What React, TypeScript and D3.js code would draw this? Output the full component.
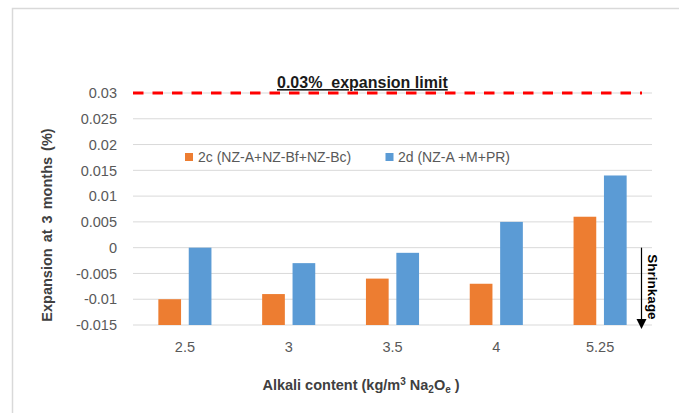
import React from "react";
import * as d3 from "d3";

const categories = ["2.5", "3", "3.5", "4", "5.25"];
const seriesNames = ["2c (NZ-A+NZ-Bf+NZ-Bc)", "2d (NZ-A +M+PR)"];
const series2c = [-0.01, -0.009, -0.006, -0.007, 0.006];
const series2d = [0, -0.003, -0.001, 0.005, 0.014];
const yTicks = [-0.015, -0.01, -0.005, 0, 0.005, 0.01, 0.015, 0.02, 0.025, 0.03];
const yTickLabels = ["-0.015", "-0.01", "-0.005", "0", "0.005", "0.01", "0.015", "0.02", "0.025", "0.03"];
const limitValue = 0.03;

const colors = ["#ED7D31", "#5B9BD5"];
const FONT = "'Liberation Sans', Arial, sans-serif";

export default function App() {
  const W = 679, H = 413;
  const plotL = 133, plotR = 652, plotT = 93, plotB = 325;
  const y = d3.scaleLinear().domain([-0.015, 0.03]).range([plotB, plotT]);
  const x0 = d3.scaleBand<string>().domain(categories).range([plotL, plotR]).padding(0);
  const x1 = d3
    .scaleBand<string>()
    .domain(["a", "b"])
    .range([0, x0.bandwidth()])
    .paddingInner(0.253)
    .paddingOuter(0.834);
  const data = [series2c, series2d];
  const base = y(-0.015);

  return (
    <svg
      width={W}
      height={H}
      style={{ position: "absolute", left: 0, top: 0, background: "#fff", fontFamily: FONT }}
    >
      <rect x={0} y={0} width={W} height={H} fill="#fff" />
      {/* outer frame */}
      <rect x={12.5} y={8.5} width={800} height={600} fill="none" stroke="#d9d9d9" strokeWidth={1.5} />

      {/* gridlines */}
      {yTicks.map((t) => (
        <line key={t} x1={plotL} x2={plotR} y1={y(t)} y2={y(t)} stroke="#d9d9d9" strokeWidth={1} />
      ))}

      {/* y tick labels */}
      {yTicks.map((t, i) => (
        <text
          key={"l" + t}
          x={117}
          y={y(t)}
          dy="0.36em"
          textAnchor="end"
          fontSize={14.5}
          fill="#595959"
        >
          {yTickLabels[i]}
        </text>
      ))}

      {/* bars */}
      {data.map((vals, si) =>
        vals.map((v, ci) => {
          const xx = (x0(categories[ci]) as number) + (x1(si === 0 ? "a" : "b") as number);
          const top = y(v);
          return (
            <rect
              key={si + "-" + ci}
              x={xx}
              y={Math.min(top, base)}
              width={x1.bandwidth()}
              height={Math.abs(base - top)}
              fill={colors[si]}
            />
          );
        })
      )}

      {/* x tick labels */}
      {categories.map((c) => (
        <text
          key={"x" + c}
          x={(x0(c) as number) + x0.bandwidth() / 2}
          y={352}
          textAnchor="middle"
          fontSize={14.5}
          fill="#595959"
        >
          {c}
        </text>
      ))}

      {/* limit line */}
      <line
        x1={plotL}
        x2={642}
        y1={y(limitValue)}
        y2={y(limitValue)}
        stroke="#FF0000"
        strokeWidth={3}
        strokeDasharray="10.5,9"
      />
      <text
        x={277}
        y={88}
        fontSize={16}
        fontWeight="bold"
        fill="#1a1a1a"
        textDecoration="underline"
        style={{ whiteSpace: "pre" }}
      >
        {"0.03%  expansion limit"}
      </text>

      {/* legend */}
      <rect x={185} y={153} width={8} height={8} fill={colors[0]} />
      <text x={198} y={157} dy="0.36em" fontSize={14} fill="#595959">
        {seriesNames[0]}
      </text>
      <rect x={385.5} y={153} width={8} height={8} fill={colors[1]} />
      <text x={398} y={157} dy="0.36em" fontSize={14} fill="#595959">
        {seriesNames[1]}
      </text>

      {/* shrinkage arrow */}
      <line x1={641.5} x2={641.5} y1={y(0)} y2={320} stroke="#000" strokeWidth={1.2} />
      <path d="M636.5,319 L646.5,319 L641.5,329 Z" fill="#000" />
      <text
        transform={`translate(653,${287}) rotate(90)`}
        textAnchor="middle"
        dy="0.36em"
        fontSize={13.5}
        fontWeight="bold"
        fill="#000"
      >
        Shrinkage
      </text>

      {/* y axis title */}
      <text
        transform={`translate(47,${225}) rotate(-90)`}
        textAnchor="middle"
        dy="0.36em"
        fontSize={14.5}
        fontWeight="bold"
        fill="#404040"
        style={{ wordSpacing: "2px" }}
      >
        Expansion at 3 months (%)
      </text>

      {/* x axis title */}
      <text x={361} y={390} textAnchor="middle" fontSize={14.5} fontWeight="bold" fill="#404040">
        Alkali content (kg/m
        <tspan fontSize={10} dy={-5}>3</tspan>
        <tspan dy={5}> Na</tspan>
        <tspan fontSize={10} dy={3}>2</tspan>
        <tspan dy={-3}>O</tspan>
        <tspan fontSize={10} dy={3}>e</tspan>
        <tspan dy={-3}> )</tspan>
      </text>
    </svg>
  );
}
